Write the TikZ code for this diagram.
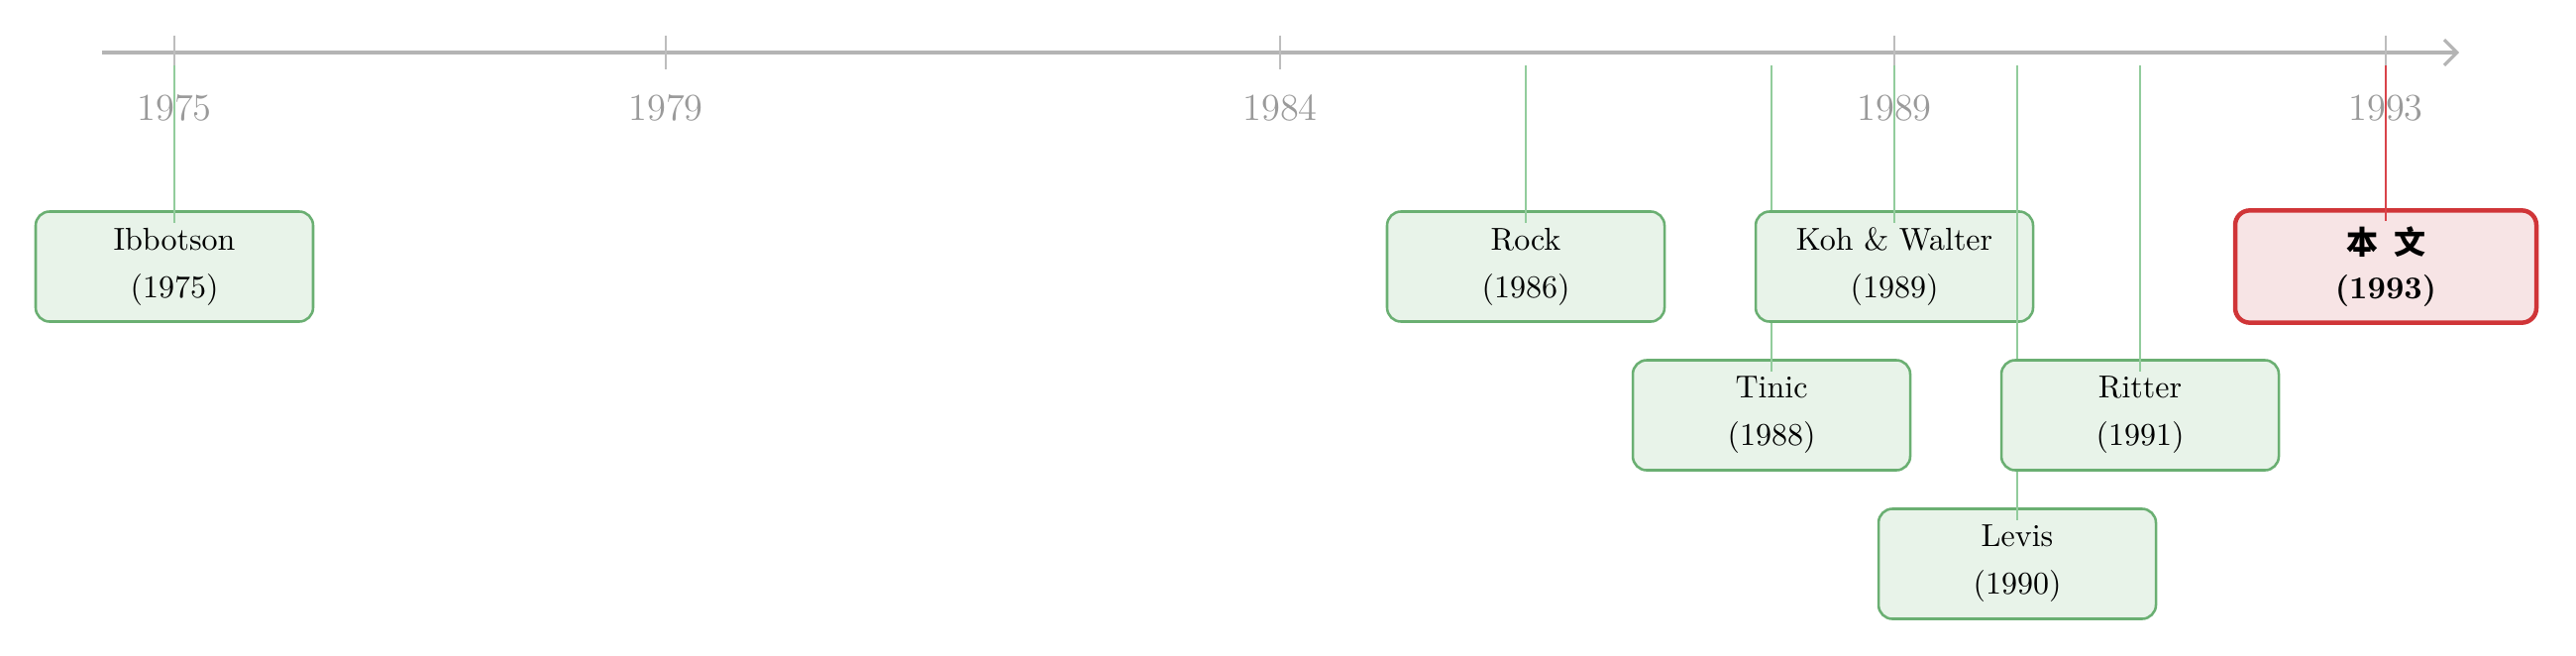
\documentclass[tikz,border=0pt]{standalone}
\usepackage{fontspec}
\newfontfamily\cjk{Noto Sans CJK SC}
\usetikzlibrary{arrows.meta}
\definecolor{axisgray}{HTML}{B4B4B4}
\definecolor{tickgray}{HTML}{BDBDBD}
\definecolor{labelgray}{HTML}{9A9A9A}
\definecolor{evborder}{HTML}{6AAF72}
\definecolor{evfill}{HTML}{E8F3E9}
\definecolor{evline}{HTML}{92CC9C}
\definecolor{meborder}{HTML}{D03538}
\definecolor{mefill}{HTML}{F7E4E5}
\definecolor{meline}{HTML}{D9434A}
\tikzset{
  axisline/.style={draw=axisgray, line width=1pt, -{Straight Barb[length=4pt,width=8pt,line width=1pt]}},
  tickline/.style={draw=tickgray, line width=0.5pt},
  yearlabel/.style={text=labelgray, font=\large, inner sep=0pt},
  eventbox/.style={draw=evborder, fill=evfill, line width=0.8pt, rounded corners=4.4pt,
    minimum width=87.5pt, minimum height=34.7pt, align=center, inner sep=2pt},
  mebox/.style={draw=meborder, fill=mefill, line width=1.4pt, rounded corners=4.6pt,
    minimum width=95pt, minimum height=35.4pt, align=center, inner sep=2pt},
  evconn/.style={draw=evline, line width=0.55pt},
  meconn/.style={draw=meline, line width=0.7pt},
}
\begin{document}
\begin{tikzpicture}[x=0.3125pt, y=-0.3125pt]
\useasboundingbox (0,0) rectangle (2600,661);
% axis
\coordinate (axstart) at (103,53);
\coordinate (axend) at (2482,53);
\draw[axisline] (axstart) -- (axend);
% ticks and year labels
\foreach \yr in {1975,1979,1984,1989,1993}{
  \pgfmathsetmacro{\xx}{176+(\yr-1975)*124}
  \coordinate (tt\yr) at (\xx,36);
  \coordinate (tb\yr) at (\xx,70);
  \draw[tickline] (tt\yr) -- (tb\yr);
  \node[yearlabel] (lab\yr) at (\xx,109) {\yr};
}
% events (drawn in order: box, then its connector)
\node[eventbox] (ibb) at (176,269) {Ibbotson\\[3pt](1975)};
\coordinate (ibbtop) at (176,66);
\draw[evconn] (ibbtop) -- ([yshift=-4pt]ibb.north);

\node[eventbox] (rock) at (1540,269) {Rock\\[3pt](1986)};
\coordinate (rocktop) at (1540,66);
\draw[evconn] (rocktop) -- ([yshift=-4pt]rock.north);

\node[eventbox] (tinic) at (1788,419) {Tinic\\[3pt](1988)};
\coordinate (tinictop) at (1788,66);
\draw[evconn] (tinictop) -- ([yshift=-4pt]tinic.north);

\node[eventbox] (koh) at (1912,269) {Koh \& Walter\\[3pt](1989)};
\coordinate (kohtop) at (1912,66);
\draw[evconn] (kohtop) -- ([yshift=-4pt]koh.north);

\node[eventbox] (levis) at (2036,569) {Levis\\[3pt](1990)};
\coordinate (levistop) at (2036,66);
\draw[evconn] (levistop) -- ([yshift=-4pt]levis.north);

\node[eventbox] (ritter) at (2160,419) {Ritter\\[3pt](1991)};
\coordinate (rittertop) at (2160,66);
\draw[evconn] (rittertop) -- ([yshift=-4pt]ritter.north);

\node[mebox] (me) at (2408,269) {{\cjk\bfseries 本\hspace{0.5em}文}\\[2pt]\textbf{(1993)}};
\coordinate (metop) at (2408,66);
\draw[meconn] (metop) -- ([yshift=-4pt]me.north);
\end{tikzpicture}
\end{document}
